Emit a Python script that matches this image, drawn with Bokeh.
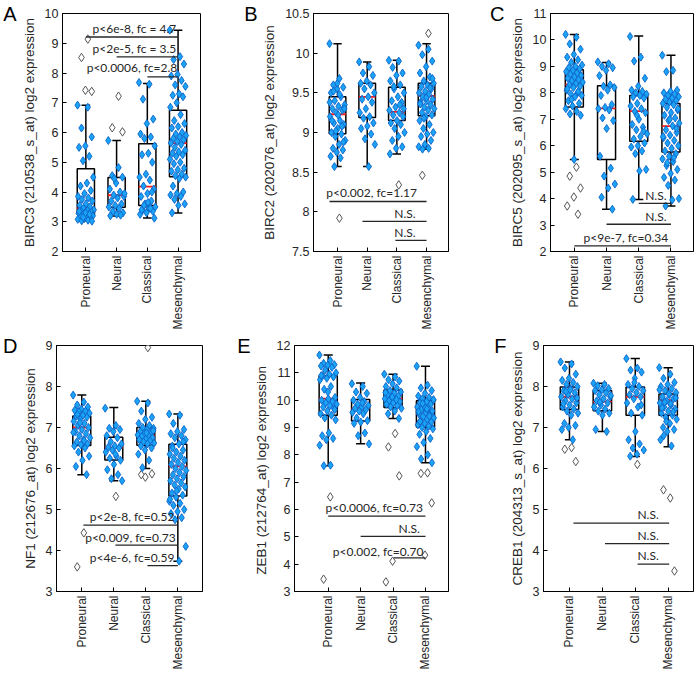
import math
from bokeh.plotting import figure
from bokeh.layouts import column, row
from bokeh.models import ColumnDataSource, FixedTicker, LinearAxis, Range1d
from bokeh.embed import file_html
from bokeh.resources import INLINE
from bokeh.core.properties import value

groups = ["Proneural", "Neural", "Classical", "Mesenchymal"]
group_pos = [1, 2, 3, 4]

# ---------------- Panel A : BIRC3 ----------------
a_letter = "A"
a_ylabel = "BIRC3 (210538_s_at) log2 expression"
a_yrange = (2, 10)
a_ticks = [2, 3, 4, 5, 6, 7, 8, 9, 10]
a_ticklabels = ["2", "3", "4", "5", "6", "7", "8", "9", "10"]
a_q1 = [3.24, 3.49, 3.55, 4.51]
a_med = [3.46, 3.89, 4.18, 5.64]
a_q3 = [4.78, 4.49, 5.62, 6.75]
a_wlo = [3.03, 3.19, 3.13, 3.29]
a_whi = [6.92, 5.73, 7.65, 9.44]
a_pts_proneural = [6.92, 6.85, 6.15, 5.85, 5.55, 5.5, 5.2, 5.05, 4.5, 4.3, 4.2, 4.05, 3.95, 3.85,
                   3.8, 3.75, 3.7, 3.6, 3.55, 3.5, 3.45, 3.4, 3.38, 3.35, 3.32, 3.3, 3.28, 3.25,
                   3.22, 3.2, 3.18, 3.15, 3.12, 3.1, 3.08, 3.05, 3.03, 3.02, 3.3, 3.35, 3.25, 3.15]
a_pts_neural = [5.73, 4.82, 4.55, 4.5, 4.3, 4.1, 4.0, 3.9, 3.85, 3.8, 3.7, 3.6, 3.55, 3.5, 3.45,
                3.35, 3.3, 3.25, 3.2, 3.22, 4.45, 3.95]
a_pts_classical = [7.68, 7.62, 7.12, 6.45, 6.3, 5.95, 5.85, 5.8, 5.55, 5.3, 5.25, 5.0, 4.6, 4.5,
                   4.4, 4.2, 4.1, 3.95, 3.85, 3.7, 3.6, 3.5, 3.45, 3.4, 3.35, 3.3, 3.25, 3.45,
                   3.55, 3.12, 3.65, 3.4, 4.0]
a_pts_mesenchymal = [9.44, 8.55, 8.45, 8.3, 7.95, 7.9, 7.75, 7.6, 7.55, 7.3, 7.25, 7.2, 7.0, 6.85,
                     6.6, 6.4, 6.3, 6.2, 6.15, 6.0, 5.95, 5.9, 5.85, 5.8, 5.75, 5.7, 5.65, 5.6,
                     5.5, 5.4, 5.35, 5.3, 5.25, 5.2, 5.1, 5.0, 4.95, 4.8, 4.75, 4.7, 4.6, 4.55,
                     4.5, 4.45, 4.2, 4.0, 3.95, 3.9, 3.85, 3.75, 3.6, 3.55, 3.3]
a_out = [[9.14, 8.52, 7.38, 7.42], [7.22, 6.16, 6.02], [], []]
a_sig_x0 = [1, 2, 3]
a_sig_x1 = [4, 4, 4]
a_sig_y = [9.21, 8.54, 7.87]
a_sig_text = ["p<6e-8, fc = 4.7", "p<2e-5, fc = 3.5", "p<0.0006, fc=2.8"]
a_sig_tx = [2.58, 2.58, 2.5]
a_sig_ty = [9.51, 8.84, 8.17]

# ---------------- Panel B : BIRC2 ----------------
b_letter = "B"
b_ylabel = "BIRC2 (202076_at) log2 expression"
b_yrange = (7.5, 10.5)
b_ticks = [7.5, 8, 8.5, 9, 9.5, 10, 10.5]
b_ticklabels = ["7.5", "8", "8.5", "9", "9.5", "10", "10.5"]
b_q1 = [8.985, 9.19, 9.15, 9.21]
b_med = [9.23, 9.45, 9.26, 9.46]
b_q3 = [9.45, 9.62, 9.57, 9.62]
b_wlo = [8.57, 8.57, 8.73, 8.79]
b_whi = [10.12, 9.89, 9.91, 10.12]
b_pts_proneural = [10.12, 9.68, 9.6, 9.57, 9.55, 9.5, 9.45, 9.4, 9.35, 9.33, 9.3, 9.28, 9.25, 9.2,
                   9.15, 9.12, 9.1, 9.05, 9.0, 8.98, 8.95, 8.9, 8.85, 8.8, 8.78, 8.75, 8.7, 8.68,
                   8.57, 9.3, 9.22, 9.15, 9.08, 9.02, 9.38, 9.48, 9.52, 8.88, 9.62]
b_pts_neural = [9.89, 9.83, 9.75, 9.72, 9.65, 9.62, 9.6, 9.55, 9.5, 9.45, 9.42, 9.38, 9.3, 9.25,
                9.2, 9.18, 9.12, 9.08, 9.05, 8.98, 8.92, 8.85, 8.57]
b_pts_classical = [9.91, 9.9, 9.82, 9.75, 9.72, 9.65, 9.6, 9.55, 9.5, 9.45, 9.4, 9.38, 9.32, 9.28,
                   9.25, 9.22, 9.2, 9.15, 9.12, 9.1, 9.05, 9.0, 8.95, 8.9, 8.82, 8.8, 8.73, 9.35,
                   9.58, 9.3]
b_pts_mesenchymal = [10.1, 10.05, 9.98, 9.9, 9.83, 9.75, 9.7, 9.65, 9.62, 9.6, 9.58, 9.55, 9.52,
                     9.5, 9.48, 9.45, 9.42, 9.4, 9.38, 9.35, 9.32, 9.3, 9.28, 9.25, 9.22, 9.2,
                     9.15, 9.1, 9.05, 9.0, 8.98, 8.95, 8.9, 8.85, 8.82, 8.8, 8.79, 9.68, 9.44,
                     9.36, 9.56, 9.18]
b_out = [[7.92], [], [8.34], [10.25, 8.46]]
b_sig_x0 = [0.73, 1.84, 2.95]
b_sig_x1 = [4, 4, 4]
b_sig_y = [8.13, 7.88, 7.64]
b_sig_text = ["p<0.002, fc=1.17", "N.S.", "N.S."]
b_sig_tx = [2.15, 3.27, 3.27]
b_sig_ty = [8.25, 7.98, 7.74]

# ---------------- Panel C : BIRC5 ----------------
c_letter = "C"
c_ylabel = "BIRC5 (202095_s_at) log2 expression"
c_yrange = (2, 11)
c_ticks = [2, 3, 4, 5, 6, 7, 8, 9, 10, 11]
c_ticklabels = ["2", "3", "4", "5", "6", "7", "8", "9", "10", "11"]
c_q1 = [7.46, 5.48, 6.17, 5.76]
c_med = [8.32, 7.41, 7.31, 6.74]
c_q3 = [8.87, 8.27, 7.9, 7.6]
c_wlo = [5.48, 3.6, 3.97, 3.72]
c_whi = [10.21, 9.15, 10.15, 9.42]
c_pts_proneural = [10.21, 10.1, 9.85, 9.65, 9.45, 9.35, 9.25, 9.15, 9.05, 9.0, 8.95, 8.9, 8.85,
                   8.8, 8.75, 8.7, 8.65, 8.6, 8.55, 8.5, 8.45, 8.4, 8.35, 8.3, 8.25, 8.2, 8.1,
                   8.0, 7.95, 7.9, 7.85, 7.7, 7.6, 7.5, 7.4, 7.3, 7.2, 7.15, 5.48, 8.15, 8.05, 7.75]
c_pts_neural = [9.17, 9.1, 9.0, 8.95, 8.85, 8.65, 8.3, 8.25, 8.2, 8.1, 7.9, 7.55, 7.45, 7.4, 7.35,
                7.05, 6.95, 6.65, 5.6, 5.15, 4.85, 4.55, 4.4, 4.05, 3.6]
c_pts_classical = [10.13, 9.35, 9.2, 8.55, 8.25, 8.1, 8.05, 8.0, 7.95, 7.9, 7.85, 7.8, 7.6, 7.5,
                   7.4, 7.3, 7.25, 7.0, 6.8, 6.7, 6.6, 6.45, 6.35, 6.25, 6.1, 6.0, 5.95, 5.8,
                   5.7, 5.1, 5.05, 3.97, 6.55, 7.15]
c_pts_mesenchymal = [9.42, 8.85, 8.8, 8.1, 8.05, 8.0, 7.95, 7.9, 7.85, 7.8, 7.75, 7.7, 7.65, 7.6,
                     7.55, 7.45, 7.35, 7.25, 7.15, 7.05, 6.95, 6.85, 6.75, 6.6, 6.5, 6.4, 6.3,
                     6.2, 6.1, 6.0, 5.9, 5.8, 5.7, 5.6, 5.5, 5.4, 5.25, 5.1, 4.95, 4.8, 4.7, 4.5,
                     4.0, 3.95, 3.72, 6.65, 7.0, 6.35, 5.55, 5.35, 7.4]
c_out = [[5.19, 4.85, 4.4, 4.06, 3.72, 3.41], [], [], []]
c_sig_x0 = [3, 2, 1]
c_sig_x1 = [4, 4, 4]
c_sig_y = [3.82, 3.03, 2.21]
c_sig_text = ["N.S.", "N.S.", "p<9e-7, fc=0.34"]
c_sig_tx = [3.53, 3.53, 2.6]
c_sig_ty = [4.1, 3.33, 2.54]

# ---------------- Panel D : NF1 ----------------
d_letter = "D"
d_ylabel = "NF1 (212676_at) log2 expression"
d_yrange = (3, 9)
d_ticks = [3, 4, 5, 6, 7, 8, 9]
d_ticklabels = ["3", "4", "5", "6", "7", "8", "9"]
d_q1 = [6.56, 6.21, 6.57, 5.33]
d_med = [7.0, 6.51, 6.8, 6.05]
d_q3 = [7.28, 6.76, 7.0, 6.59]
d_wlo = [5.85, 5.7, 6.0, 3.74]
d_whi = [7.79, 7.49, 7.64, 7.33]
d_pts_proneural = [7.79, 7.62, 7.55, 7.5, 7.45, 7.42, 7.4, 7.38, 7.35, 7.3, 7.28, 7.25, 7.2, 7.15,
                   7.1, 7.05, 7.0, 6.95, 6.9, 6.85, 6.8, 6.75, 6.7, 6.65, 6.6, 6.58, 6.55, 6.5,
                   6.4, 6.3, 6.2, 6.05, 5.85, 7.12, 6.88, 6.68, 7.32]
d_pts_neural = [7.47, 7.05, 6.98, 6.95, 6.9, 6.8, 6.75, 6.65, 6.6, 6.55, 6.52, 6.5, 6.45, 6.4,
                6.3, 6.25, 6.2, 6.1, 5.97, 5.85, 5.75, 5.7, 6.35]
d_pts_classical = [7.64, 7.6, 7.4, 7.25, 7.2, 7.1, 7.05, 7.0, 6.98, 6.95, 6.9, 6.88, 6.85, 6.82,
                   6.8, 6.78, 6.75, 6.72, 6.7, 6.68, 6.65, 6.62, 6.6, 6.55, 6.5, 6.45, 6.35, 6.2,
                   6.02, 6.92, 6.87]
d_pts_mesenchymal = [7.33, 7.3, 7.1, 6.95, 6.9, 6.85, 6.8, 6.75, 6.7, 6.6, 6.55, 6.45, 6.4, 6.35,
                     6.3, 6.25, 6.2, 6.15, 6.1, 6.05, 6.0, 5.95, 5.9, 5.85, 5.8, 5.75, 5.7, 5.65,
                     5.6, 5.55, 5.5, 5.4, 5.35, 5.3, 5.2, 5.15, 5.1, 5.0, 4.95, 4.9, 4.8, 4.75,
                     4.1, 3.74, 6.5, 6.65, 5.45, 5.25]
d_out = [[4.43, 3.6], [5.32], [8.95, 5.85, 5.87, 5.79], []]
d_sig_x0 = [1.05, 2.05, 3.05]
d_sig_x1 = [4, 4, 4]
d_sig_y = [4.62, 4.13, 3.63]
d_sig_text = ["p<2e-8, fc=0.52", "p<0.009, fc=0.73", "p<4e-6, fc=0.59"]
d_sig_tx = [2.57, 2.52, 2.57]
d_sig_ty = [4.83, 4.32, 3.82]

# ---------------- Panel E : ZEB1 ----------------
e_letter = "E"
e_ylabel = "ZEB1 (212764_at)  log2 expression"
e_yrange = (3, 12)
e_ticks = [3, 4, 5, 6, 7, 8, 9, 10, 11, 12]
e_ticklabels = ["3", "4", "5", "6", "7", "8", "9", "10", "11", "12"]
e_q1 = [9.45, 9.24, 9.73, 9.02]
e_med = [10.06, 9.7, 10.05, 9.63]
e_q3 = [10.89, 10.02, 10.37, 9.98]
e_wlo = [7.6, 8.41, 9.33, 7.71]
e_whi = [11.65, 10.63, 10.95, 11.24]
e_pts_proneural = [11.65, 11.45, 11.35, 11.3, 11.28, 11.25, 11.2, 11.1, 11.0, 10.95, 10.9, 10.85,
                   10.8, 10.75, 10.5, 10.4, 10.1, 10.05, 10.0, 9.95, 9.9, 9.85, 9.8, 9.75, 9.7,
                   9.6, 9.5, 9.45, 9.35, 9.28, 8.8, 8.7, 8.6, 8.55, 8.35, 7.62, 7.6, 9.65, 10.3,
                   10.9]
e_pts_neural = [10.6, 10.5, 10.3, 10.25, 10.1, 10.0, 9.95, 9.85, 9.8, 9.75, 9.7, 9.65, 9.6, 9.55,
                9.5, 9.35, 9.25, 9.2, 9.15, 8.8, 8.7, 8.4, 9.9]
e_pts_classical = [10.95, 10.85, 10.75, 10.7, 10.6, 10.5, 10.45, 10.35, 10.3, 10.25, 10.2, 10.15,
                   10.1, 10.05, 10.0, 9.98, 9.95, 9.9, 9.85, 9.8, 9.75, 9.7, 9.6, 9.5, 9.33,
                   10.12, 10.28, 10.02]
e_pts_mesenchymal = [11.24, 10.55, 10.45, 10.35, 10.25, 10.15, 10.1, 10.05, 10.0, 9.95, 9.9, 9.85,
                     9.8, 9.75, 9.7, 9.65, 9.6, 9.55, 9.5, 9.45, 9.4, 9.35, 9.3, 9.25, 9.2, 9.15,
                     9.1, 9.05, 9.0, 8.95, 8.85, 8.75, 8.6, 8.45, 8.3, 8.0, 7.85, 7.71, 9.72,
                     9.58, 9.42, 9.88, 10.02, 9.68, 9.22]
e_out = [[6.46, 3.45], [], [8.78, 8.29, 7.23, 4.11, 3.35], [7.34, 7.32, 6.24, 4.33]]
e_sig_x0 = [1, 2, 3.02]
e_sig_x1 = [4, 4, 4]
e_sig_y = [5.76, 5.02, 4.23]
e_sig_text = ["p<0.0006, fc=0.73", "N.S.", "p<0.002, fc=0.70"]
e_sig_tx = [2.42, 3.5, 2.54]
e_sig_ty = [6.08, 5.3, 4.48]

# ---------------- Panel F : CREB1 ----------------
f_letter = "F"
f_ylabel = "CREB1 (204313_s_at) log2 expression"
f_yrange = (3, 9)
f_ticks = [3, 4, 5, 6, 7, 8, 9]
f_ticklabels = ["3", "4", "5", "6", "7", "8", "9"]
f_q1 = [7.44, 7.41, 7.3, 7.3]
f_med = [7.75, 7.63, 7.75, 7.67]
f_q3 = [7.99, 7.9, 7.99, 7.82]
f_wlo = [6.7, 6.9, 6.29, 6.53]
f_whi = [8.6, 8.08, 8.68, 8.46]
f_pts_proneural = [8.6, 8.55, 8.45, 8.3, 8.2, 8.15, 8.1, 8.05, 8.0, 7.95, 7.9, 7.85, 7.8, 7.75,
                   7.7, 7.65, 7.6, 7.55, 7.5, 7.45, 7.4, 7.35, 7.3, 7.1, 7.05, 7.0, 6.95, 6.7,
                   7.88, 7.72, 7.92, 7.58]
f_pts_neural = [8.08, 8.05, 8.02, 7.95, 7.92, 7.9, 7.85, 7.8, 7.75, 7.7, 7.65, 7.6, 7.55, 7.5,
                7.45, 7.4, 7.35, 7.3, 6.95, 6.9, 7.62, 7.78]
f_pts_classical = [8.68, 8.45, 8.4, 8.35, 8.2, 8.05, 8.0, 7.95, 7.9, 7.85, 7.8, 7.75, 7.7, 7.6,
                   7.5, 7.35, 7.3, 6.9, 6.7, 6.6, 6.5, 6.45, 6.35, 6.3, 7.55, 8.1]
f_pts_mesenchymal = [8.46, 8.3, 8.2, 8.1, 8.05, 8.0, 7.95, 7.9, 7.85, 7.8, 7.75, 7.7, 7.65, 7.6,
                     7.55, 7.5, 7.45, 7.4, 7.35, 7.3, 7.25, 7.2, 7.1, 7.0, 6.95, 6.9, 6.7, 6.55,
                     7.62, 7.72, 7.82, 7.48, 7.38, 7.15, 7.92, 7.58, 6.8]
f_out = [[6.51, 6.47, 6.17], [], [6.1], [5.28, 5.48, 3.5]]
f_sig_x0 = [1.12, 2.08, 3.07]
f_sig_x1 = [4.03, 4.03, 4.03]
f_sig_y = [4.67, 4.17, 3.67]
f_sig_text = ["N.S.", "N.S.", "N.S."]
f_sig_tx = [3.39, 3.39, 3.39]
f_sig_ty = [4.87, 4.37, 3.88]

# ---------------- layout geometry (pixels; the page has no body margin) ----------------
ROW1_H, ROW2_H = 332, 340
geo = {
    "A": dict(w=230, h=ROW1_H, l=58, r=30, t=13, b=79, xr=(0.24, 4.73), ls=2),
    "B": dict(w=230, h=ROW1_H, l=83, r=12, t=13, b=79, xr=(0.19, 4.74), ls=2),
    "C": dict(w=238, h=ROW1_H, l=90, r=5, t=13, b=79, xr=(0.26, 4.70), ls=2),
    "D": dict(w=230, h=ROW2_H, l=50, r=28, t=13, b=80, xr=(0.21, 4.77), ls=2),
    "E": dict(w=230, h=ROW2_H, l=64, r=12, t=13, b=80, xr=(-0.04, 4.71), ls=0),
    "F": dict(w=238, h=ROW2_H, l=83, r=5, t=13, b=80, xr=(0.21, 4.77), ls=0),
}

TXT = "#262626"
AX_FONT = "Liberation Sans"
ANN_FONT = "Lato"
PT_FILL = "#1aa3f5"
PT_LINE = "#0b63c9"
BOX_HW = 0.28
CAP_HW = 0.14
JIT_W = 0.54


def spread(n, start=0):
    return [(((i + start) * 0.6180339887) % 1.0 - 0.5) * JIT_W for i in range(n)]


def make_panel(letter, ylabel, yrange, ticks, ticklabels, q1, med, q3, wlo, whi,
               pts, outs, sx0, sx1, sy, stext, stx, sty, g):
    p = figure(width=g["w"], height=g["h"], x_range=Range1d(*g["xr"]),
               y_range=Range1d(*yrange), output_backend="svg", toolbar_location=None,
               min_border_left=g["l"], min_border_right=g["r"],
               min_border_top=g["t"], min_border_bottom=g["b"])
    p.xgrid.visible = False
    p.ygrid.visible = False
    p.outline_line_color = "black"
    p.outline_line_width = 1
    p.background_fill_color = "white"
    p.border_fill_color = "white"

    # axes
    p.xaxis.ticker = FixedTicker(ticks=group_pos)
    p.xaxis.major_label_overrides = {gp: name for gp, name in zip(group_pos, groups)}
    p.xaxis.major_label_orientation = math.pi / 2
    p.yaxis.ticker = FixedTicker(ticks=ticks)
    p.yaxis.major_label_overrides = {t: s for t, s in zip(ticks, ticklabels)}
    p.yaxis.axis_label = ylabel
    for ax in (p.xaxis[0], p.yaxis[0]):
        ax.axis_line_color = "black"
        ax.axis_line_width = 1
        ax.major_tick_in = 4
        ax.major_tick_out = 0
        ax.major_tick_line_color = "black"
        ax.minor_tick_line_color = None
        ax.major_label_text_font = AX_FONT
        ax.major_label_text_color = TXT
        ax.major_label_standoff = 4
    p.xaxis.major_label_text_font_size = "12px"
    p.yaxis.major_label_text_font_size = "12.5px"
    p.yaxis.axis_label_text_font = AX_FONT
    p.yaxis.axis_label_text_font_size = "13.5px"
    p.yaxis.axis_label_text_font_style = "normal"
    p.yaxis.axis_label_text_color = TXT
    p.yaxis.axis_label_standoff = 5

    # panel letter: an outer left axis with no ticks carrying only a horizontal label
    letter_axis = LinearAxis(ticker=FixedTicker(ticks=[]), axis_label=letter,
                             axis_label_orientation="horizontal", axis_label_align="end",
                             axis_line_color=None, major_tick_in=0, major_tick_out=0,
                             minor_tick_in=0, minor_tick_out=0, major_label_standoff=0,
                             axis_label_standoff=g["ls"], axis_label_text_font=AX_FONT,
                             axis_label_text_font_size="20px",
                             axis_label_text_font_style="normal",
                             axis_label_text_color="black")
    p.add_layout(letter_axis, "left")

    # whiskers and caps
    p.segment(x0=group_pos, x1=group_pos, y0=q3, y1=whi, line_color="black", line_width=1.5)
    p.segment(x0=group_pos, x1=group_pos, y0=q1, y1=wlo, line_color="black", line_width=1.5)
    p.segment(x0=[x - CAP_HW for x in group_pos], x1=[x + CAP_HW for x in group_pos],
              y0=whi, y1=whi, line_color="black", line_width=1.5)
    p.segment(x0=[x - CAP_HW for x in group_pos], x1=[x + CAP_HW for x in group_pos],
              y0=wlo, y1=wlo, line_color="black", line_width=1.5)
    # boxes
    p.quad(left=[x - BOX_HW for x in group_pos], right=[x + BOX_HW for x in group_pos],
           bottom=q1, top=q3, fill_color=None, line_color="black", line_width=1.5)
    # medians
    p.segment(x0=[x - BOX_HW for x in group_pos], x1=[x + BOX_HW for x in group_pos],
              y0=med, y1=med, line_color="#ff1a1a", line_width=1.8)

    # outliers (open diamonds)
    ox, oy = [], []
    for gp, vals in zip(group_pos, outs):
        offs = spread(len(vals), start=1)
        ox += [gp + o for o in offs]
        oy += vals
    p.scatter(x=ox, y=oy, marker="diamond", size=8.5, fill_color="white",
              line_color="#555555", line_width=1)

    # data points
    px, py = [], []
    for gp, vals in zip(group_pos, pts):
        offs = spread(len(vals))
        px += [gp + o for o in offs]
        py += vals
    p.scatter(x=px, y=py, marker="diamond", size=8, fill_color=PT_FILL,
              line_color=PT_LINE, line_width=0.9)

    # significance bars
    p.segment(x0=sx0, x1=sx1, y0=sy, y1=sy, line_color=TXT, line_width=1.3)
    src = ColumnDataSource(dict(x=stx, y=sty, t=stext))
    p.text(x="x", y="y", text="t", source=src, text_font=value(ANN_FONT),
           text_font_size="12px", text_color=TXT, text_align="center",
           text_baseline="middle")
    return p


pA = make_panel(a_letter, a_ylabel, a_yrange, a_ticks, a_ticklabels, a_q1, a_med, a_q3, a_wlo, a_whi,
                [a_pts_proneural, a_pts_neural, a_pts_classical, a_pts_mesenchymal], a_out,
                a_sig_x0, a_sig_x1, a_sig_y, a_sig_text, a_sig_tx, a_sig_ty, geo["A"])
pB = make_panel(b_letter, b_ylabel, b_yrange, b_ticks, b_ticklabels, b_q1, b_med, b_q3, b_wlo, b_whi,
                [b_pts_proneural, b_pts_neural, b_pts_classical, b_pts_mesenchymal], b_out,
                b_sig_x0, b_sig_x1, b_sig_y, b_sig_text, b_sig_tx, b_sig_ty, geo["B"])
pC = make_panel(c_letter, c_ylabel, c_yrange, c_ticks, c_ticklabels, c_q1, c_med, c_q3, c_wlo, c_whi,
                [c_pts_proneural, c_pts_neural, c_pts_classical, c_pts_mesenchymal], c_out,
                c_sig_x0, c_sig_x1, c_sig_y, c_sig_text, c_sig_tx, c_sig_ty, geo["C"])
pD = make_panel(d_letter, d_ylabel, d_yrange, d_ticks, d_ticklabels, d_q1, d_med, d_q3, d_wlo, d_whi,
                [d_pts_proneural, d_pts_neural, d_pts_classical, d_pts_mesenchymal], d_out,
                d_sig_x0, d_sig_x1, d_sig_y, d_sig_text, d_sig_tx, d_sig_ty, geo["D"])
pE = make_panel(e_letter, e_ylabel, e_yrange, e_ticks, e_ticklabels, e_q1, e_med, e_q3, e_wlo, e_whi,
                [e_pts_proneural, e_pts_neural, e_pts_classical, e_pts_mesenchymal], e_out,
                e_sig_x0, e_sig_x1, e_sig_y, e_sig_text, e_sig_tx, e_sig_ty, geo["E"])
pF = make_panel(f_letter, f_ylabel, f_yrange, f_ticks, f_ticklabels, f_q1, f_med, f_q3, f_wlo, f_whi,
                [f_pts_proneural, f_pts_neural, f_pts_classical, f_pts_mesenchymal], f_out,
                f_sig_x0, f_sig_x1, f_sig_y, f_sig_text, f_sig_tx, f_sig_ty, geo["F"])

layout = column(row(pA, pB, pC), row(pD, pE, pF))
open("out.html", "w").write(file_html(layout, INLINE))
